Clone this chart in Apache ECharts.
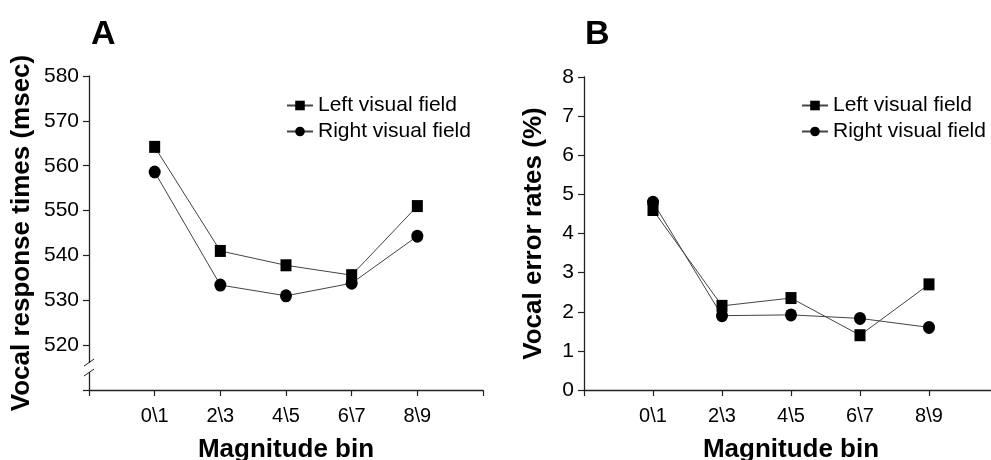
<!DOCTYPE html>
<html>
<head>
<meta charset="utf-8">
<title>Vocal response times and error rates</title>
<script src="https://cdn.jsdelivr.net/npm/echarts@6/dist/echarts.min.js"></script>
<style>
	html, body { margin: 0; padding: 0; background: #fff; }
	#main { width: 991px; height: 460px; }
</style>
</head>
<body>
<div id="main"></div>
<script type="text/javascript">
	// magnitude bins
	var binLabels = ['0\\1', '2\\3', '4\\5', '6\\7', '8\\9'];
	// A: vocal response times (msec)
	var rtLeft = [564.2, 541.0, 537.8, 535.6, 551.0];
	var rtRight = [558.6, 533.4, 531.0, 533.8, 544.3];
	// B: vocal error rates (%)
	var errLeft = [4.6, 2.15, 2.35, 1.4, 2.7];
	var errRight = [4.8, 1.9, 1.92, 1.83, 1.6];

	var seriesNames = ['Left visual field', 'Right visual field'];
	var sans = "'Liberation Sans', Arial, sans-serif";

	// pair each bin with its position 1..5 on the x axis
	function toPoints(vals) {
		var out = [];
		for (var i = 0; i < vals.length; i++) {
			out.push([i + 1, vals[i]]);
		}
		return out;
	}

	var axisLine = { lineStyle: { color: '#222', width: 1.3 } };
	var axisTick = { show: true, length: 6, lineStyle: { color: '#222', width: 1.2 } };

	function makeX(idx) {
		return {
			gridIndex: idx,
			type: 'value',
			min: 0,
			max: 6,
			interval: 1,
			name: 'Magnitude bin',
			nameLocation: 'middle',
			nameGap: 47,
			nameTextStyle: { fontFamily: sans, fontWeight: 'bold', fontSize: 26, color: '#000' },
			axisLine: axisLine,
			axisTick: axisTick,
			splitLine: { show: false },
			axisLabel: {
				margin: 16,
				fontFamily: sans,
				fontSize: 20,
				color: '#000',
				formatter: function(v) {
					return binLabels[v - 1] || '';
				}
			}
		};
	}

	function makeSeries(name, idx, vals) {
		var isLeft = name == seriesNames[0];
		return {
			name: name,
			type: 'line',
			xAxisIndex: idx,
			yAxisIndex: idx,
			data: toPoints(vals),
			symbol: isLeft ? 'rect' : 'circle',
			symbolSize: isLeft ? [11, 12] : [12, 13],
			lineStyle: { color: '#444', width: 1 },
			itemStyle: { color: '#000' },
			emphasis: { disabled: true },
			z: isLeft ? 3 : 2
		};
	}

	function makeLegend(left) {
		return {
			data: seriesNames,
			orient: 'vertical',
			left: left,
			top: 90,
			itemGap: 5,
			itemWidth: 26,
			itemHeight: 12,
			selectedMode: false,
			textStyle: { fontFamily: sans, fontSize: 21, color: '#000' }
		};
	}

	var chart = echarts.init(document.getElementById('main'), null, { renderer: 'canvas' });

	var option = {
		animation: false,
		backgroundColor: '#fff',
		title: [
			{ text: 'A', left: 86, top: 13, textStyle: { fontFamily: sans, fontWeight: 'bold', fontSize: 34, color: '#000' } },
			{ text: 'B', left: 580, top: 13, textStyle: { fontFamily: sans, fontWeight: 'bold', fontSize: 34, color: '#000' } }
		],
		legend: [makeLegend(281), makeLegend(796)],
		grid: [
			{ left: 89, top: 76, width: 394, height: 314, outerBoundsMode: 'none' },
			{ left: 584, top: 77, width: 414, height: 313, outerBoundsMode: 'none' }
		],
		xAxis: [makeX(0), makeX(1)],
		yAxis: [
			{
				gridIndex: 0,
				type: 'value',
				min: 510,
				max: 580,
				interval: 10,
				name: 'Vocal response times (msec)',
				nameLocation: 'middle',
				nameGap: 54,
				nameTextStyle: { fontFamily: sans, fontWeight: 'bold', fontSize: 26, color: '#000' },
				axisLine: { show: true, lineStyle: axisLine.lineStyle },
				axisTick: axisTick,
				splitLine: { show: false },
				axisLabel: {
					margin: 10,
					fontFamily: sans,
					fontSize: 21,
					color: '#000',
					formatter: function(v) {
						return v == 510 ? '' : v;
					}
				}
			},
			{
				gridIndex: 1,
				type: 'value',
				min: 0,
				max: 8,
				interval: 1,
				name: 'Vocal error rates (%)',
				nameLocation: 'middle',
				nameGap: 37,
				nameTextStyle: { fontFamily: sans, fontWeight: 'bold', fontSize: 26, color: '#000' },
				axisLine: { show: true, lineStyle: axisLine.lineStyle },
				axisTick: axisTick,
				splitLine: { show: false },
				axisLabel: { margin: 10, fontFamily: sans, fontSize: 21, color: '#000' }
			}
		],
		series: [
			makeSeries(seriesNames[0], 0, rtLeft),
			makeSeries(seriesNames[1], 0, rtRight),
			makeSeries(seriesNames[0], 1, errLeft),
			makeSeries(seriesNames[1], 1, errRight)
		]
	};
	chart.setOption(option);

	// axis break marks on the y axis of panel A
	var lo = chart.convertToPixel({ gridIndex: 0 }, [0, 514]);
	var hi = chart.convertToPixel({ gridIndex: 0 }, [0, 516]);
	chart.setOption({
		graphic: [
			{ type: 'rect', shape: { x: lo[0] - 2, y: hi[1], width: 4, height: lo[1] - hi[1] }, style: { fill: '#fff' }, z: 100 },
			{ type: 'line', shape: { x1: lo[0] - 5, y1: lo[1] + 4, x2: lo[0] + 5, y2: lo[1] - 3 }, style: { stroke: '#222', lineWidth: 1 }, z: 101 },
			{ type: 'line', shape: { x1: hi[0] - 5, y1: hi[1] + 3, x2: hi[0] + 5, y2: hi[1] - 4 }, style: { stroke: '#222', lineWidth: 1 }, z: 101 }
		]
	});
</script>
</body>
</html>
